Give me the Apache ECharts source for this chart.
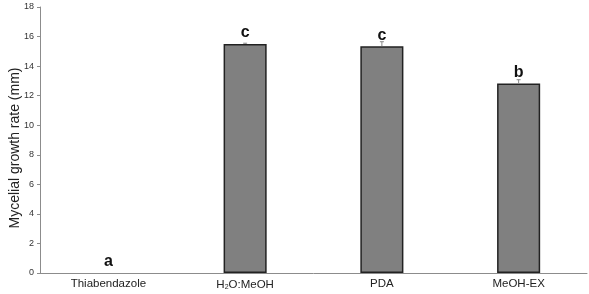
<!DOCTYPE html>
<html>
<head>
<meta charset="utf-8">
<script src="https://cdn.jsdelivr.net/npm/echarts@6/dist/echarts.min.js"></script>
<style>
html, body { margin: 0; padding: 0; background: #fff; }
#main { width: 589px; height: 294px; }
</style>
</head>
<body>
<div id="main"></div>
<script>
// 数据
var categories = ['Thiabendazole', 'H2O:MeOH', 'PDA', 'MeOH-EX'];
var growthValues = [0, 15.5, 15.35, 12.83];
var errorValues = [0, 0.05, 0.3, 0.25];
var letters = ['a', 'c', 'c', 'b'];
var yTicks = [0, 2, 4, 6, 8, 10, 12, 14, 16, 18];

var chart = echarts.init(document.getElementById('main'));

var barData = [];
var errData = [];
for (var i = 0; i < categories.length; i++) {
    // 值为0的柱子不画边框
    barData.push({
        value: growthValues[i],
        itemStyle: growthValues[i] > 0 ? {} : { borderWidth: 0 }
    });
    errData.push([i, growthValues[i], errorValues[i]]);
}

var option = {
    animation: false,
    textStyle: { fontFamily: 'Liberation Sans, Arial, sans-serif' },
    grid: { left: 40, right: 2, top: 7, bottom: 21, outerBoundsMode: 'none', containLabel: false },
    xAxis: {
        type: 'category',
        data: categories,
        axisLine: { lineStyle: { color: '#8c8c8c', width: 1 } },
        axisTick: { show: false },
        axisLabel: {
            color: '#222',
            fontSize: 11.5,
            margin: 5,
            formatter: function (v) {
                if (v === 'H2O:MeOH') return 'H{sub|2}O:MeOH';
                return v;
            },
            rich: {
                sub: { fontSize: 7, verticalAlign: 'bottom', padding: [6, 0, 0, 0], color: '#222' }
            }
        }
    },
    yAxis: {
        type: 'value',
        min: yTicks[0],
        max: yTicks[yTicks.length - 1],
        interval: 2,
        name: 'Mycelial growth rate (mm)',
        nameLocation: 'middle',
        nameGap: 18,
        nameMoveOverlap: false,
        nameTextStyle: { color: '#222', fontSize: 14, padding: [0, 16, 0, 0] },
        axisLine: { show: true, lineStyle: { color: '#8c8c8c', width: 1 } },
        axisTick: { show: true, length: 3, lineStyle: { color: '#8c8c8c' } },
        axisLabel: { color: '#333', fontSize: 9, margin: 6 },
        splitLine: { show: false }
    },
    series: [{
        type: 'bar',
        data: barData,
        barWidth: '31.5%',
        itemStyle: { color: '#808080', borderColor: '#222', borderWidth: 1.5 },
        label: {
            show: true,
            position: 'top',
            distance: 3,
            fontSize: 16,
            fontWeight: 'bold',
            color: '#111',
            formatter: function (p) { return letters[p.dataIndex]; }
        },
        z: 2
    }, {
        type: 'custom',
        data: errData,
        renderItem: function (params, api) {
            if (api.value(2) <= 0) return;
            var x = api.coord([api.value(0), 0])[0];
            var yb = api.coord([api.value(0), api.value(1)])[1];
            var yt = api.coord([api.value(0), api.value(1) + api.value(2)])[1];
            var s = { stroke: '#888', lineWidth: 1 };
            return {
                type: 'group',
                children: [
                    { type: 'line', shape: { x1: x, y1: yb, x2: x, y2: yt }, style: s },
                    { type: 'line', shape: { x1: x - 2, y1: yt, x2: x + 2, y2: yt }, style: s }
                ]
            };
        },
        z: 3
    }]
};

chart.setOption(option);
</script>
</body>
</html>
